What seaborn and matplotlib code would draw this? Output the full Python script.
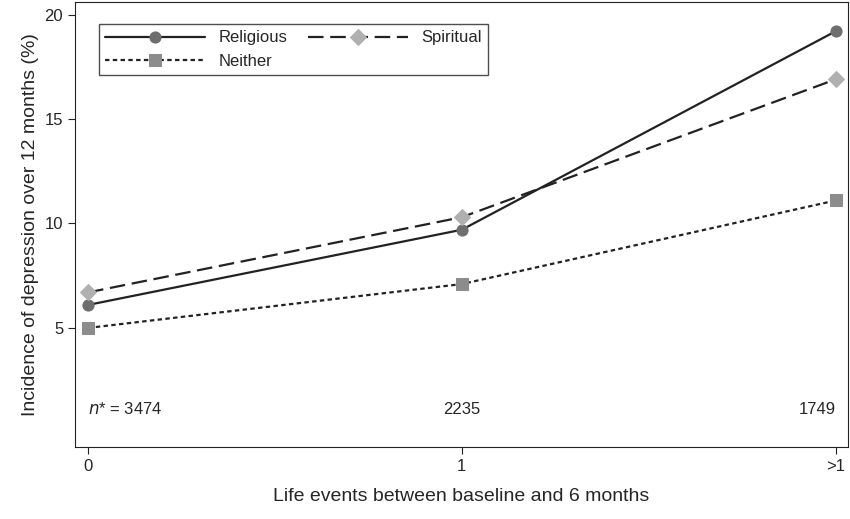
import matplotlib
matplotlib.use("Agg")
import matplotlib.pyplot as plt
import seaborn as sns
import pandas as pd

sns.set_style("white")
plt.rcParams['font.family'] = ['Liberation Sans', 'DejaVu Sans']

x_labels = ["0", "1", ">1"]
religious = [6.1, 9.7, 19.2]
spiritual = [6.7, 10.3, 16.9]
neither = [5.0, 7.1, 11.1]
n_labels = ["$n$* = 3474", "2235", "1749"]

rows = []
for name, vals in [("Religious", religious), ("Spiritual", spiritual), ("Neither", neither)]:
    for i, v in enumerate(vals):
        rows.append({"x": i, "y": v, "group": name})
df = pd.DataFrame(rows)

fig = plt.figure(figsize=(8.5, 5.19), dpi=100)
ax = fig.add_axes([75/850, 1-447/519, 773/850, 445/519])

styles = {
    "Religious": dict(color="#222222", ls="-", marker="o", mfc="#6e6e6e", mec="#6e6e6e", ms=8),
    "Spiritual": dict(color="#222222", ls=(0, (7, 3)), marker="D", mfc="#b0b0b0", mec="#b0b0b0", ms=8),
    "Neither": dict(color="#222222", ls=(0, (2, 1.5)), marker="s", mfc="#8c8c8c", mec="#8c8c8c", ms=8),
}
for name, st in styles.items():
    sub = df[df.group == name]
    sns.lineplot(data=sub, x="x", y="y", ax=ax, label=name, lw=1.6,
                 color=st["color"], linestyle=st["ls"], marker=st["marker"],
                 markerfacecolor=st["mfc"], markeredgecolor=st["mec"], markersize=st["ms"])

ax.set_xlim(-0.035, 2.033)
ax.set_ylim(-0.7, 20.6)
ax.set_xticks([0, 1, 2])
ax.set_xticklabels(x_labels)
ax.set_yticks([5, 10, 15, 20])
ax.tick_params(axis="both", direction="out", length=5, labelsize=12, left=True, bottom=True, color="#222222")
ax.set_xlabel("Life events between baseline and 6 months", fontsize=14, labelpad=10)
ax.set_ylabel("Incidence of depression over 12 months (%)", fontsize=14)
for s in ax.spines.values():
    s.set_color("#222222")

ha = ["left", "center", "right"]
xs = [0, 1, 2]
for xi, t, h in zip(xs, n_labels, ha):
    ax.text(xi, 1.1, t, ha=h, va="center", fontsize=12)

handles, labels = ax.get_legend_handles_labels()
order = [labels.index(l) for l in ["Religious", "Neither", "Spiritual"]]
leg = ax.legend([handles[i] for i in order], [labels[i] for i in order],
                loc="upper left", ncol=2, fontsize=12, frameon=True, fancybox=False,
                edgecolor="#222222", handlelength=6, columnspacing=1.2,
                bbox_to_anchor=(0.02, 0.97))
leg.get_frame().set_linewidth(1.0)

fig.savefig("out.png", dpi=100)
